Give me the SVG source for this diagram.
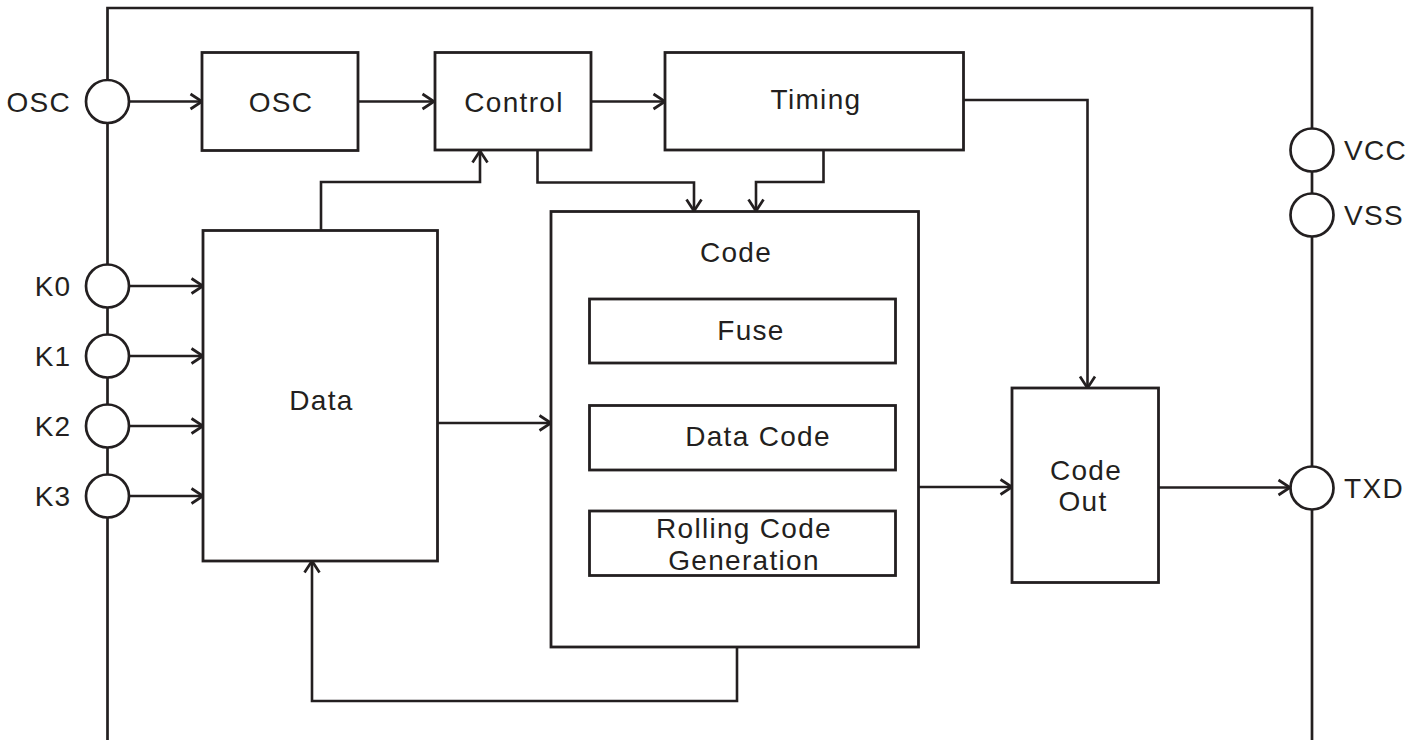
<svg xmlns="http://www.w3.org/2000/svg" width="1422" height="740" viewBox="0 0 1422 740">
<defs>
<style>
.bx{fill:#fff;stroke:#231f20;stroke-width:2.8}
.pin{fill:#fff;stroke:#231f20;stroke-width:2.7}
.ln{fill:none;stroke:#231f20;stroke-width:2.7}
.cn{fill:none;stroke:#231f20;stroke-width:2.6;marker-end:url(#arr)}
text{font-family:"Liberation Sans",Arial,sans-serif;font-size:28px;fill:#231f20;letter-spacing:1.3px}
.c{text-anchor:middle}
.e{text-anchor:end}
</style>
<marker id="arr" viewBox="0 0 14 16" markerWidth="14" markerHeight="16" refX="12" refY="8" orient="auto" markerUnits="userSpaceOnUse" overflow="visible">
<path d="M0.5,0.5 L12,8 L0.5,15.5" fill="none" stroke="#231f20" stroke-width="2.7"/>
</marker>
</defs>
<rect width="1422" height="740" fill="#fff"/>
<g id="frame">
<path class="ln" d="M107.5,740 V8 H1312 V740"/>
</g>
<g id="connectors">
<path class="cn" d="M129,101.5 H202"/>
<path class="cn" d="M358,101.5 H434"/>
<path class="cn" d="M591,101.5 H665"/>
<path class="cn" d="M963,100 H1087.5 V388"/>
<path class="cn" d="M537.5,150 V182.5 H694 V211"/>
<path class="cn" d="M823.5,150 V182 H756 V211"/>
<path class="cn" d="M321,230 V182 H480 V151"/>
<path class="cn" d="M129,286 H203"/>
<path class="cn" d="M129,356 H203"/>
<path class="cn" d="M129,426 H203"/>
<path class="cn" d="M129,496 H203"/>
<path class="cn" d="M437,423 H551"/>
<path class="cn" d="M919,487 H1012"/>
<path class="cn" d="M1158,487.5 H1290"/>
<path class="cn" d="M737,647 V701 H312 V561"/>
</g>
<g id="pin-osc"><circle class="pin" cx="107.5" cy="101.5" r="21.5"/><text class="e" x="71" y="111.7">OSC</text></g>
<g id="pin-k0"><circle class="pin" cx="107.5" cy="286" r="21.5"/><text class="e" x="71.5" y="295.7">K0</text></g>
<g id="pin-k1"><circle class="pin" cx="107.5" cy="356" r="21.5"/><text class="e" x="71.5" y="366">K1</text></g>
<g id="pin-k2"><circle class="pin" cx="107.5" cy="426" r="21.5"/><text class="e" x="71.5" y="436">K2</text></g>
<g id="pin-k3"><circle class="pin" cx="107.5" cy="496" r="21.5"/><text class="e" x="71.5" y="506">K3</text></g>
<g id="pin-vcc"><circle class="pin" cx="1312" cy="150" r="21.5"/><text x="1344" y="160">VCC</text></g>
<g id="pin-vss"><circle class="pin" cx="1312" cy="215" r="21.5"/><text x="1344" y="225">VSS</text></g>
<g id="pin-txd"><circle class="pin" cx="1312" cy="488" r="21.5"/><text x="1344" y="498.3">TXD</text></g>
<g id="osc"><rect class="bx" x="202" y="52.5" width="156" height="98"/><text class="c" x="281" y="111.7">OSC</text></g>
<g id="control"><rect class="bx" x="435" y="52.5" width="156" height="97.5"/><text class="c" x="514" y="111.7">Control</text></g>
<g id="timing"><rect class="bx" x="665" y="52.5" width="298.5" height="97.5"/><text class="c" x="816" y="109.3">Timing</text></g>
<g id="data"><rect class="bx" x="203" y="230.5" width="234.5" height="330.5"/><text class="c" x="321.5" y="410">Data</text></g>
<g id="code"><rect class="bx" x="551" y="211.5" width="367.5" height="435.5"/><text class="c" x="736" y="261.7">Code</text></g>
<g id="fuse"><rect class="bx" x="589.5" y="299" width="306" height="64"/><text class="c" x="751" y="340">Fuse</text></g>
<g id="datacode"><rect class="bx" x="589.5" y="405.5" width="306" height="64.5"/><text class="c" x="758" y="446">Data Code</text></g>
<g id="rolling"><rect class="bx" x="589.5" y="511" width="306" height="64.5"/><text class="c" x="744" y="538">Rolling Code</text><text class="c" x="744" y="570">Generation</text></g>
<g id="codeout"><rect class="bx" x="1012" y="388" width="146.5" height="194.5"/><text class="c" x="1086" y="480">Code</text><text class="c" x="1083" y="510.7">Out</text></g>
</svg>
